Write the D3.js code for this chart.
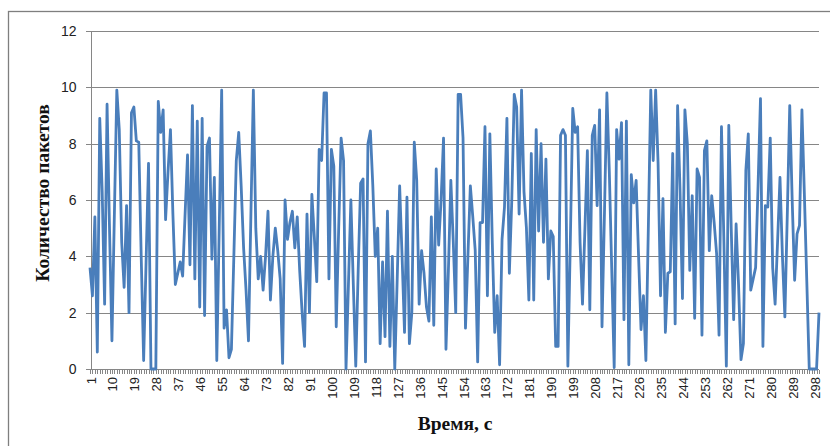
<!DOCTYPE html>
<html>
<head>
<meta charset="utf-8">
<script src="https://cdn.jsdelivr.net/npm/d3@7"></script>
<style>
  body { margin: 0; background: #fff; }
  svg { display: block; }
  .grid { stroke: #868686; stroke-width: 1; shape-rendering: crispEdges; }
  .axis path, .axis line { stroke: #868686; shape-rendering: crispEdges; }
  .axis text { font-family: 'Liberation Sans', Arial, sans-serif; fill: #222; }
  .title { font-family: 'Liberation Serif', 'Times New Roman', serif; font-weight: bold; font-size: 19.5px; fill: #111; }
</style>
</head>
<body>
<svg id="chart"></svg>
<script>
const WIDTH = 830;
const HEIGHT = 446;
const PLOT = { left: 90, right: 819, top: 31, bottom: 369 };

// number of packets per second, 1..300 s
const packets = [
  3.6, 2.6, 5.4, 0.6, 8.9, 6.3, 2.3, 9.4, 5.0, 1.0,
  5.5, 9.9, 8.5, 4.5, 2.9, 5.8, 2.0, 9.1, 9.3, 8.1,
  8.05, 4.0, 0.3, 3.8, 7.3, 0, 0, 0, 9.5, 8.4,
  9.2, 5.3, 7.0, 8.5, 5.5, 3.0, 3.4, 3.8, 3.3, 5.5,
  7.6, 3.7, 9.35, 3.2, 8.8, 2.2, 8.9, 1.9, 7.9, 8.2,
  3.9, 6.8, 0.3, 5.0, 9.9, 1.45, 2.1, 0.4, 0.7, 4.0,
  7.4, 8.4, 6.5, 4.3, 2.8, 1.0, 5.5, 9.9, 5.0, 3.2,
  4.0, 2.8, 4.0, 5.6, 2.45, 4.0, 5.0, 4.2, 3.2, 0.2,
  6.0, 4.6, 5.2, 5.6, 4.3, 5.4, 3.5, 2.0, 0.8, 5.5,
  2.0, 6.2, 4.7, 3.1, 7.8, 7.4, 9.8, 9.8, 3.2, 7.8,
  7.2, 1.5, 5.0, 8.2, 7.4, 0.0, 3.0, 6.0, 3.0, 0.1,
  3.5, 6.6, 6.75, 0.25, 8.0, 8.45, 6.5, 4.0, 5.0, 0.9,
  3.8, 1.15, 5.6, 0.8, 4.0, 0.0, 3.2, 6.5, 4.0, 1.3,
  6.1, 0.9, 2.0, 8.05, 6.7, 2.3, 4.2, 3.4, 2.2, 1.7,
  5.4, 1.55, 7.1, 4.4, 6.0, 8.2, 0.7, 3.5, 6.7, 4.5,
  2.0, 9.75, 9.75, 8.2, 1.45, 4.0, 6.5, 5.4, 4.2, 0.25,
  5.2, 5.2, 8.6, 2.6, 8.35, 4.5, 1.3, 2.6, 0.15, 4.6,
  5.75, 8.9, 3.4, 6.0, 9.75, 9.3, 5.5, 9.9, 6.3, 5.0,
  2.45, 7.65, 2.45, 8.5, 4.9, 8.0, 4.5, 7.45, 3.2, 4.9,
  4.7, 0.8, 0.8, 8.3, 8.5, 8.3, 0.1, 4.5, 9.25, 8.4,
  8.6, 4.5, 2.3, 5.0, 7.75, 2.1, 8.3, 8.65, 5.8, 9.2,
  1.5, 5.5, 9.8, 7.0, 3.5, 0.05, 8.5, 7.45, 8.75, 1.75,
  8.8, 0.15, 6.9, 5.9, 6.7, 4.0, 1.4, 2.6, 0.3, 5.0,
  9.9, 7.4, 9.9, 7.3, 2.6, 6.05, 1.3, 3.4, 3.45, 7.65,
  1.6, 9.35, 6.35, 2.5, 9.2, 8.0, 3.5, 6.15, 1.8, 7.1,
  6.8, 1.2, 7.75, 8.1, 4.2, 6.15, 5.2, 4.1, 1.2, 8.6,
  4.5, 0.1, 8.65, 5.0, 1.75, 5.15, 3.0, 0.33, 0.9, 7.05,
  8.35, 2.8, 3.2, 3.6, 6.5, 9.6, 0.8, 5.8, 5.75, 8.2,
  3.6, 2.3, 4.5, 6.8, 4.0, 1.85, 5.5, 9.35, 6.0, 3.15,
  4.8, 5.1, 9.2, 6.2, 3.1, 0, 0, 0, 0, 2.0
];
const seconds = packets.map((d, i) => i + 1);
const xTickLabels = [1, 10, 19, 28, 37, 46, 55, 64, 73, 82, 91, 100, 109, 118, 127, 136,
  145, 154, 163, 172, 181, 190, 199, 208, 217, 226, 235, 244, 253, 262, 271, 280, 289, 298];
const yTicks = [0, 2, 4, 6, 8, 10, 12];

const svg = d3.select('#chart')
  .attr('width', WIDTH)
  .attr('height', HEIGHT);

// outer chart frame (only top and left edges fall inside the picture)
svg.append('rect')
  .attr('x', 8.5)
  .attr('y', 11.5)
  .attr('width', 840)
  .attr('height', 460)
  .attr('fill', 'none')
  .attr('stroke', '#7f7f7f')
  .attr('stroke-width', 1.3);

const x = d3.scalePoint()
  .domain(seconds)
  .range([PLOT.left, PLOT.right]);

const y = d3.scaleLinear()
  .domain([0, 12])
  .range([PLOT.bottom, PLOT.top]);

svg.append('g')
  .selectAll('line')
  .data(yTicks.filter((d) => d > 0))
  .enter()
    .append('line')
    .classed('grid', true)
    .attr('x1', PLOT.left)
    .attr('x2', PLOT.right)
    .attr('y1', (d) => Math.round(y(d)) + .5)
    .attr('y2', (d) => Math.round(y(d)) + .5);

const yAxis = svg.append('g')
  .classed('axis', true)
  .attr('transform', `translate(${PLOT.left + .5},0)`)
  .call(d3.axisLeft(y).tickValues(yTicks).tickSize(5).tickPadding(9));
yAxis.selectAll('text').style('font-size', '14px');

// minor ticks: one per second, labels every 9 s
const xAxis = svg.append('g')
  .classed('axis', true)
  .attr('transform', `translate(0,${PLOT.bottom + .5})`)
  .call(d3.axisBottom(x).tickValues(seconds).tickSize(4).tickFormat(''));
xAxis.select('.domain').attr('d', `M${PLOT.left},0H${PLOT.right}`);

svg.append('g')
  .classed('axis', true)
  .selectAll('text')
  .data(xTickLabels)
  .enter()
    .append('text')
    .attr('transform', (d) => `translate(${x(d) + 5.5},${PLOT.bottom + 8}) rotate(-90)`)
    .attr('text-anchor', 'end')
    .style('font-size', '13px')
    .text((d) => d);

const line = d3.line()
  .x((d, i) => x(seconds[i]))
  .y((d) => y(d));

svg.append('path')
  .datum(packets)
  .attr('d', line)
  .attr('fill', 'none')
  .attr('stroke', '#4a7ebb')
  .attr('stroke-width', 2.8)
  .attr('stroke-linejoin', 'round');

svg.append('text')
  .classed('title', true)
  .attr('text-anchor', 'middle')
  .attr('transform', 'translate(49,193) rotate(-90)')
  .text('Количество пакетов');

svg.append('text')
  .classed('title', true)
  .attr('text-anchor', 'middle')
  .attr('x', 455)
  .attr('y', 430)
  .text('Время, с');
</script>
</body>
</html>
